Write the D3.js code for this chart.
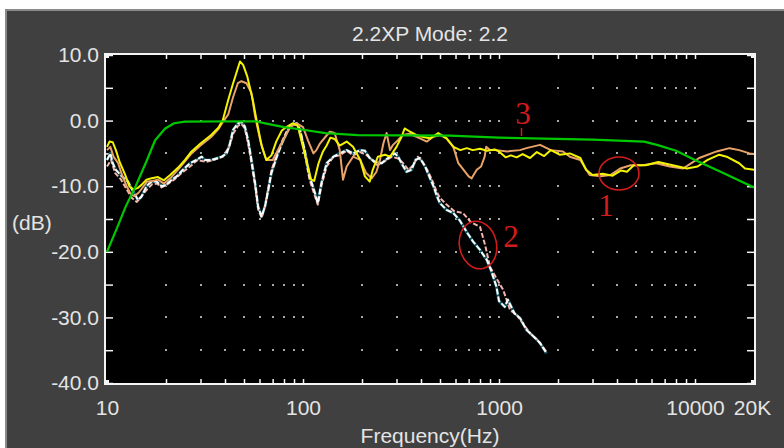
<!DOCTYPE html>
<html>
<head>
<meta charset="utf-8">
<script src="https://cdn.jsdelivr.net/npm/d3@7"></script>
<style>
  html, body { margin: 0; padding: 0; background: #ffffff; }
  svg { display: block; }
  text { font-family: "Liberation Sans", Arial, sans-serif; }
</style>
</head>
<body>
<svg id="chart" width="784" height="448"></svg>
<script>
// ---- data (frequency in Hz, level in dB) ----
const titleText = "2.2XP Mode: 2.2";
const xTickValues = [10, 100, 1000, 10000, 20000];
const xTickLabels = ["10", "100", "1000", "10000", "20K"];
const yTickValues = [10, 0, -10, -20, -30, -40];
const yTickLabels = ["10.0", "0.0", "-10.0", "-20.0", "-30.0", "-40.0"];
const yMinorTicks = [10, 5, 0, -5, -10, -15, -20, -25, -30, -35, -40];
const xMinorTicks = [20, 30, 40, 50, 60, 70, 80, 90, 100,
                     200, 300, 400, 500, 600, 700, 800, 900, 1000,
                     2000, 3000, 4000, 5000, 6000, 7000, 8000, 9000, 10000];
const gridLevels = [5, 0, -5, -10, -15, -20, -25, -30, -35];

// target curve
const greenSeries = [
  [10, -20], [11.2, -16.5], [12.5, -13], [14, -10], [16, -6], [17.6, -3],
  [19.8, -1.2], [22, -0.4], [25, -0.15], [57, -0.1], [66, -0.5], [80, -1.0],
  [100, -1.4], [130, -1.9], [190, -2.2], [560, -2.3], [1000, -2.6], [3000, -2.9],
  [5500, -3.2], [6400, -3.7], [8000, -4.6], [10000, -6], [13500, -7.8], [20000, -10.2]
];

const yellowSeries = [
  [10, -4], [10.3, -3.2], [10.7, -3.3], [11.1, -4.5], [11.6, -6.3], [12.4, -8.3],
  [13, -10], [13.6, -10.5], [14.3, -10.3], [15, -9.8], [15.9, -9], [16.9, -8.8],
  [18.2, -8.6], [19.5, -9.1], [21, -8.3], [23, -7.2], [25, -6], [27, -4.7],
  [30, -3.5], [34, -2.2], [37, -1.1], [39, 0.1], [41.5, 3.1], [44, 5.7],
  [47.7, 9], [49.5, 8.5], [52, 6.7], [55.5, 3.1], [57, 1.2], [58.8, -0.9],
  [61.5, -3.8], [65, -6], [69, -5.3], [73, -3.2], [78, -1.5], [83, -0.9],
  [89, -0.4], [94, -0.8], [98, -3], [104, -6], [110, -9], [114, -9.2],
  [120, -6.5], [126, -4.8], [132, -3.8], [138, -2.6], [145, -2.8], [154, -3.8],
  [167, -3.2], [180, -4], [196, -6], [207, -8.5], [219, -9.3], [227, -7.5],
  [241, -5.5], [262, -5.2], [278, -5.5], [300, -4], [318, -2.5], [330, -1.2],
  [352, -1.7], [380, -2.2], [410, -2.5], [445, -2.7], [490, -1.9], [540, -2.7],
  [585, -4], [635, -4.5], [685, -4.2], [735, -4.5], [800, -4.3], [870, -4.6],
  [950, -4.4], [1000, -4.7], [1080, -5.6], [1150, -5.3], [1230, -5.6], [1320, -5.1],
  [1440, -5.7], [1560, -4.8], [1700, -5.4], [1840, -4.5], [2040, -5.2], [2300, -5],
  [2600, -5.7], [2780, -7.5], [3000, -8.3], [3380, -8.1], [3800, -8.4], [4200, -7.6],
  [4500, -7.8], [4870, -6.8], [5600, -6.8], [6500, -6.3], [7700, -6.8], [9100, -7.3],
  [10300, -7], [11600, -6], [13300, -5.2], [14500, -5.5], [16800, -6.5], [18000, -7.3],
  [20000, -7.5]
];

const orangeSeries = [
  [10, -4.5], [10.4, -4], [10.8, -5.5], [11.4, -6.5], [12, -8.5], [12.6, -10],
  [13.2, -11.2], [13.8, -11.5], [14.5, -11], [15.2, -10.2], [16, -9.3], [17, -9.2],
  [18.2, -9], [19.5, -9.6], [21, -8.8], [23, -7.5], [25, -6.2], [27, -5],
  [30, -3.8], [34, -2.5], [37, -1.3], [39, -0.2], [41.5, 0.9], [44, 3.6],
  [46.5, 5.7], [48.5, 6], [51.5, 5.7], [54.6, 4.2], [57, 0.6], [60.5, -3],
  [62.5, -4.5], [65, -6], [70, -6], [76, -4], [81, -2.5], [86, -1],
  [93, -0.4], [100, -1], [106, -3], [113, -5], [117, -4.5], [122, -3.5],
  [130, -2.5], [137, -1.7], [145, -1.9], [154, -4.5], [160, -9], [167, -7],
  [180, -5.5], [196, -6], [210, -8], [224, -8.8], [237, -7.8], [247, -6],
  [257, -3.5], [267, -1.9], [278, -4.5], [288, -3.7], [305, -3], [323, -2.2],
  [350, -2.0], [395, -2.7], [428, -3.2], [460, -2.5], [500, -2.2], [540, -2.7],
  [585, -4], [620, -6.5], [660, -7.5], [700, -8.5], [725, -8.8], [770, -7.5],
  [810, -7], [845, -5.5], [860, -4], [900, -4.5], [970, -4.5], [1100, -4.7],
  [1280, -4.5], [1380, -4.2], [1620, -3.7], [1840, -4.5], [2120, -4.7], [2300, -5.5],
  [2600, -6], [2900, -8.3], [3300, -8.5], [3700, -8.3], [4150, -7.3], [4700, -6.8],
  [5400, -6.8], [6340, -6.5], [7440, -7], [8700, -7.3], [9800, -6.3], [10500, -5.7],
  [12900, -4.7], [15000, -4.2], [16800, -4.5], [19000, -5], [20000, -5.1]
];

const whiteSeries = [
  [10, -6], [10.4, -5], [10.7, -6.5], [11.1, -7.5], [11.9, -8.5], [12.8, -9.3],
  [13.6, -10.8], [14.4, -12.1], [15, -11.6], [15.9, -10], [16.9, -9.3], [17.9, -9.3],
  [19, -10], [20, -9.8], [21.4, -9], [22.7, -8.5], [24.4, -7.5], [26.5, -6.5],
  [28.6, -6], [30.4, -5.5], [31.6, -6], [34.2, -6], [38.5, -5.5], [40.8, -5],
  [42.4, -3.5], [44, -1.4], [46.6, -0.4], [48.5, -0.2], [50.5, -0.9], [52.5, -3],
  [54.6, -6], [57, -9.6], [59, -13.1], [61.5, -14.6], [64, -13.1], [66.5, -10.6],
  [69, -8], [73.5, -5.5], [78, -3.5], [83, -1.7], [87, -0.7], [93, -0.4],
  [96, -1.2], [102, -4.5], [108, -8.5], [115, -11], [119, -12.6], [124, -9.6],
  [132, -6.5], [143, -5.5], [154, -5], [167, -4.5], [180, -5], [196, -4.5],
  [207, -4.6], [219, -5.7], [233, -6.3], [252, -6.5], [272, -5.7], [294, -5],
  [306, -5.5], [318, -6.5], [337, -7.8], [358, -7.5], [375, -6], [395, -5.7],
  [420, -7], [445, -8.8], [463, -10], [482, -11.5], [500, -12.6], [540, -13.6],
  [585, -14.1], [630, -15.2], [685, -17], [740, -18.5], [800, -19.7], [865, -21.2],
  [910, -22.8], [970, -25.3], [1000, -27.5], [1070, -28.4], [1110, -27.3], [1200, -29.4],
  [1280, -30.1], [1380, -31.9], [1500, -32.9], [1620, -33.9], [1750, -35.5]
];

const pinkSeries = [
  [10, -7], [10.5, -6], [11, -8], [11.8, -9], [12.6, -10.5], [13.4, -11.8],
  [14.2, -12.4], [15, -11.5], [16, -10.5], [17, -9.7], [18, -9.6], [19, -10.2],
  [20.5, -9.6], [22, -9], [24, -8], [26.5, -7], [29, -6], [32, -6.3],
  [35, -6], [39, -5.5], [42, -4], [44, -2], [46.6, -0.8], [48.5, -0.5],
  [50.5, -1.2], [52.5, -3.5], [54.6, -6.5], [57, -10], [59, -13.5], [61.5, -14.8],
  [64, -13], [66.5, -10.3], [69, -7.6], [73.5, -5.2], [78, -3.2], [83, -1.5],
  [88, -0.6], [93, -0.6], [97, -1.5], [102, -5], [108, -9], [115, -11.5],
  [119, -12.8], [124, -10], [132, -7], [143, -5.5], [154, -5.3], [167, -4.6],
  [180, -5.3], [196, -4.8], [210, -5.2], [225, -6], [240, -6.8], [260, -6.2],
  [285, -5.5], [306, -5.8], [325, -6.5], [345, -7.5], [365, -6.8], [385, -5.5],
  [405, -6.2], [430, -7.5], [455, -9], [480, -10.8], [500, -11.8], [540, -12.8],
  [590, -13.8], [655, -14.1], [720, -15.5], [800, -16.2], [850, -19], [900, -22.3],
  [960, -23.8], [1050, -25.8], [1140, -28.9], [1230, -29.6], [1330, -31], [1450, -32.5],
  [1580, -33.5], [1750, -35.3]
];

// ---- layout ----
const svg = d3.select("#chart");
const W = 784, H = 448;
const plot = { left: 105, top: 54, right: 755, bottom: 384 };

const x = d3.scaleLog().domain([10, 20000]).range([107, 754]);
const y = d3.scaleLinear().domain([-40, 10]).range([383, 55]);

const textColor = "#e4e4e4";

// window background and bevel
svg.append("rect").attr("x", 0).attr("y", 0).attr("width", W).attr("height", H).attr("fill", "#ffffff");
svg.append("rect").attr("x", 5).attr("y", 9).attr("width", W - 5).attr("height", H - 9).attr("fill", "#8a8a8a");
svg.append("rect").attr("x", 7).attr("y", 11).attr("width", W - 7).attr("height", H - 11).attr("fill", "#404040");

// title
svg.append("text")
  .attr("x", 430).attr("y", 41)
  .attr("text-anchor", "middle")
  .attr("fill", textColor)
  .style("font-size", "21px")
  .text(titleText);

// plot frame
svg.append("rect")
  .attr("x", plot.left).attr("y", plot.top)
  .attr("width", plot.right - plot.left).attr("height", plot.bottom - plot.top)
  .attr("fill", "#000000")
  .attr("stroke", "#f4f4f4").attr("stroke-width", 2);

// corner marks
[[plot.left + 1, plot.top + 1], [plot.right - 4, plot.top + 1],
 [plot.left + 1, plot.bottom - 4], [plot.right - 4, plot.bottom - 4]].forEach(([cx, cy]) => {
  svg.append("rect").attr("x", cx).attr("y", cy).attr("width", 3).attr("height", 3).attr("fill", "#f4f4f4");
});

// grid dots
const dots = svg.append("g").attr("class", "grid-dots");
gridLevels.forEach(lv => {
  xMinorTicks.forEach(f => {
    dots.append("rect")
      .attr("x", Math.round(x(f)) - 1).attr("y", Math.round(y(lv)) - 1)
      .attr("width", 2).attr("height", 2)
      .attr("fill", "#a8a8a8");
  });
});

// tick marks on all four sides, pointing inward
function styleTicks(g) {
  g.select(".domain").remove();
  g.selectAll(".tick line").attr("stroke", "#f4f4f4").attr("stroke-width", 1.5);
  g.selectAll(".tick text").remove();
}
svg.append("g").attr("transform", `translate(0,${plot.top})`)
  .call(d3.axisBottom(x).tickValues(xMinorTicks).tickSize(5)).call(styleTicks);
svg.append("g").attr("transform", `translate(0,${plot.bottom})`)
  .call(d3.axisTop(x).tickValues(xMinorTicks).tickSize(5)).call(styleTicks);
svg.append("g").attr("transform", `translate(${plot.left},0)`)
  .call(d3.axisRight(y).tickValues(yMinorTicks).tickSize(8)).call(styleTicks);
svg.append("g").attr("transform", `translate(${plot.right},0)`)
  .call(d3.axisLeft(y).tickValues(yMinorTicks).tickSize(8)).call(styleTicks);

// tick labels
const yAxis = svg.append("g").attr("transform", `translate(${plot.left},0)`)
  .call(d3.axisLeft(y).tickValues(yTickValues).tickSize(0).tickPadding(6)
    .tickFormat((d, i) => yTickLabels[i]));
yAxis.select(".domain").remove();
yAxis.selectAll("text").attr("fill", textColor).style("font-size", "21px")
  .style("font-family", "'Liberation Sans', Arial, sans-serif");

const xAxis = svg.append("g").attr("transform", `translate(0,${plot.bottom})`)
  .call(d3.axisBottom(x).tickValues(xTickValues).tickSize(0).tickPadding(16)
    .tickFormat((d, i) => xTickLabels[i]));
xAxis.select(".domain").remove();
xAxis.selectAll("text").attr("fill", textColor).style("font-size", "21px")
  .style("font-family", "'Liberation Sans', Arial, sans-serif")
  .attr("dx", d => d === 20000 ? -2 : 0);

// axis titles
svg.append("text")
  .attr("x", 430).attr("y", 443)
  .attr("text-anchor", "middle")
  .attr("fill", textColor)
  .style("font-size", "21px")
  .text("Frequency(Hz)");
svg.append("text")
  .attr("x", 12).attr("y", 230)
  .attr("fill", textColor)
  .style("font-size", "21px")
  .text("(dB)");

// curves
svg.append("defs").append("clipPath").attr("id", "plot-clip")
  .append("rect")
  .attr("x", plot.left + 1).attr("y", plot.top + 1)
  .attr("width", plot.right - plot.left - 2).attr("height", plot.bottom - plot.top - 2);

const curves = svg.append("g").attr("clip-path", "url(#plot-clip)");
const line = d3.line().x(d => x(d[0])).y(d => y(d[1]));

function drawCurve(data, color, width, dash) {
  const p = curves.append("path")
    .datum(data)
    .attr("d", line)
    .attr("fill", "none")
    .attr("stroke", color)
    .attr("stroke-width", width)
    .attr("stroke-linejoin", "round");
  if (dash) p.attr("stroke-dasharray", dash);
  return p;
}

drawCurve(whiteSeries, "#0d5560", 3);
drawCurve(pinkSeries, "#f2b6ac", 2, "5,2");
drawCurve(whiteSeries, "#ffffff", 2, "6,2");
drawCurve(orangeSeries, "#e9a268", 2);
drawCurve(yellowSeries, "#f4f400", 2);
drawCurve(greenSeries, "#00c800", 2.2);

// hand-drawn markers
const red = "#d21c1c";
const notes = svg.append("g");
notes.append("ellipse").attr("cx", 619).attr("cy", 173.5).attr("rx", 20).attr("ry", 16.5)
  .attr("fill", "none").attr("stroke", red).attr("stroke-width", 1.6);
notes.append("ellipse").attr("cx", 478).attr("cy", 245).attr("rx", 18.5).attr("ry", 24)
  .attr("transform", "rotate(-12,478,245)")
  .attr("fill", "none").attr("stroke", red).attr("stroke-width", 1.6);
notes.append("line").attr("x1", 521.5).attr("x2", 521.5).attr("y1", 128).attr("y2", 136)
  .attr("stroke", red).attr("stroke-width", 1.5);

function noteText(tx, ty, s) {
  notes.append("text").attr("x", tx).attr("y", ty)
    .attr("text-anchor", "middle")
    .attr("fill", red)
    .style("font-family", "'Liberation Serif', 'DejaVu Serif', serif")
    .style("font-size", "31px")
    .text(s);
}
noteText(606, 216, "1");
noteText(511, 247, "2");
noteText(523, 124, "3");
</script>
</body>
</html>
